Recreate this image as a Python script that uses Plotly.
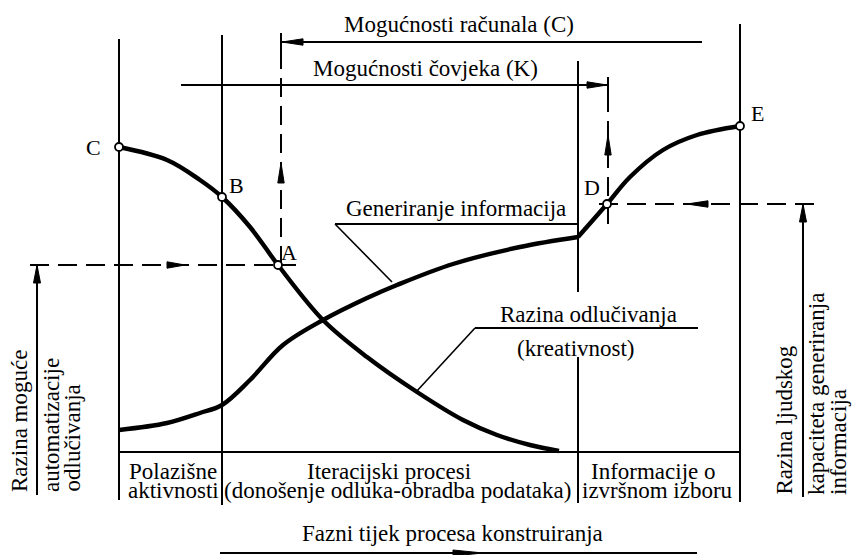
import plotly.graph_objects as go

# Horizontal axis: progress of the design process; vertical axis: level above the baseline
phase_bounds = [0, 103, 459, 621]
phase_labels = [
    ["Polazišne", "aktivnosti"],
    ["Iteracijski procesi", "(donošenje odluka-obradba podataka)"],
    ["Informacije o", "izvršnom izboru"],
]

# Level of decision making (creativity) - falls along the process
dec_x = [0, 48, 81, 103, 131, 159, 204, 248, 298, 344, 378, 411, 440]
dec_y = [305, 292, 272, 255, 225, 187, 132, 95, 60, 32, 17, 7, 1]

# Generation of information - rises, with a break at the start of the last phase
gen_x = [0, 48, 81, 103, 131, 164, 204, 248, 278, 334, 401, 459, 488, 511, 544, 578, 621]
gen_y = [22, 29, 39, 47, 72, 107, 132, 154, 167, 188, 205, 215, 248, 275, 302, 317, 326]
gen_break = 11

# Characteristic points: (name, series, index)
key_points = [("C", "dec", 0), ("B", "dec", 3), ("A", "dec", 5), ("D", "gen", 12), ("E", "gen", 16)]

FONT = "'Liberation Serif', 'Times New Roman', Times, serif"
FS = 23
BLACK = "black"

fig = go.Figure()

curve = dict(color=BLACK, width=4.4, shape="spline", smoothing=1.0)
fig.add_trace(go.Scatter(x=dec_x, y=dec_y, mode="lines", line=curve, hoverinfo="skip"))
fig.add_trace(go.Scatter(x=gen_x[:gen_break + 1], y=gen_y[:gen_break + 1], mode="lines",
                         line=curve, hoverinfo="skip"))
fig.add_trace(go.Scatter(x=gen_x[gen_break:], y=gen_y[gen_break:], mode="lines",
                         line=curve, hoverinfo="skip"))

series = {"dec": (dec_x, dec_y), "gen": (gen_x, gen_y)}
px_ = [series[s][0][i] for _, s, i in key_points]
py_ = [series[s][1][i] for _, s, i in key_points]
fig.add_trace(go.Scatter(x=px_, y=py_, mode="markers",
                         marker=dict(size=8, color="white", line=dict(color=BLACK, width=1.8)),
                         hoverinfo="skip"))

shapes = []


def seg(x0, y0, x1, y1, w=2, dash=None):
    ln = dict(color=BLACK, width=w)
    if dash:
        ln["dash"] = dash
    shapes.append(dict(type="line", x0=x0, y0=y0, x1=x1, y1=y1, xref="x", yref="y",
                       line=ln, layer="below"))


def head(tx, ty, dx, dy, length=20, half=3.2):
    bx, by = tx - dx * length, ty - dy * length
    ox, oy = -dy * half, dx * half
    shapes.append(dict(type="path", xref="x", yref="y", fillcolor=BLACK,
                       line=dict(color=BLACK, width=1),
                       path=f"M {tx},{ty} L {bx + ox},{by + oy} L {bx - ox},{by - oy} Z"))


DASH = "19px,9px"

# phase boundaries and baseline
seg(phase_bounds[0], 413, phase_bounds[0], -48)
seg(phase_bounds[1], 417, phase_bounds[1], -53)
seg(phase_bounds[2], 391, phase_bounds[2], 160)
seg(phase_bounds[2], 95, phase_bounds[2], -51)
seg(phase_bounds[3], 428, phase_bounds[3], -50)
seg(phase_bounds[0], 0, phase_bounds[3], 0)

# computer capability (C) range
seg(162, 419, 162, 402)
seg(162, 410, 583, 410)
head(163, 410, -1, 0, length=21)
# human capability (K) range
seg(62, 367, 489, 367)
seg(489, 375, 489, 359)
head(488, 367, 1, 0, length=20)

# projections through A and D
seg(162, 402, 162, 187, dash=DASH)
head(162, 289, 0, 1)
seg(-89, 187, 177, 187, dash=DASH)
head(66, 187, 1, 0, length=18)
seg(489, 359, 489, 228, dash=DASH)
head(489, 317, 0, 1)
seg(480, 248, 703, 248, dash=DASH)
head(568, 248, -1, 0, length=21)

# side scales
seg(-82, 187, -82, -43)
head(-82, 187, 0, 1, length=18, half=3.5)
seg(684, 248, 684, -45)
head(684, 248, 0, 1, length=18, half=3.5)

# leader lines to the curves
seg(216, 228, 459, 228, w=1.8)
seg(216, 228, 273, 170, w=1.6)
seg(356, 124, 579, 124, w=1.8)
seg(356, 124, 297, 60, w=1.6)

# process flow arrow
seg(101, -101, 578, -101)
head(364, -101, 1, 0, length=30, half=3)

ann = []


def text(x, y, s, size=FS, xa="center", ya="middle", angle=0):
    ann.append(dict(x=x, y=y, xref="x", yref="y", text=s, showarrow=False,
                    font=dict(family=FONT, size=size, color=BLACK),
                    xanchor=xa, yanchor=ya, textangle=angle))


text(340, 428, "Mogućnosti računala (C)")
text(306, 384, "Mogućnosti čovjeka (K)")
text(337, 244, "Generiranje informacija")
text(469, 138, "Razina odlučivanja")
text(457, 104, "(kreativnost)")

# cell text centres (first line, second line) for each phase
cell_centres = [(54, 54), (270, 278), (534, 538)]
for (l1, l2), (c1, c2) in zip(phase_labels, cell_centres):
    text(c1, -19, l1)
    text(c2, -38, l2)

text(333, -81, "Fazni tijek procesa konstruiranja")

text(-100, -42, "Razina moguće", ya="bottom", angle=-90)
text(-68, -42, "automatizacije", ya="bottom", angle=-90)
text(-47, -42, "odlučivanja", ya="bottom", angle=-90)
text(665, -45, "Razina ljudskog", ya="bottom", angle=-90)
text(697, -45, "kapaciteta generiranja", ya="bottom", angle=-90)
text(719, -45, "informacija", ya="bottom", angle=-90)

label_offsets = {"C": (-26, 0), "B": (14, 12), "A": (11, 13), "D": (-15, 17), "E": (17, 13)}
for (name, _, _), x, y in zip(key_points, px_, py_):
    dx, dy = label_offsets[name]
    text(x + dx, y + dy, name, size=22)

fig.update_layout(
    width=861, height=555,
    margin=dict(l=0, r=0, t=0, b=0),
    paper_bgcolor="white", plot_bgcolor="white",
    font=dict(family=FONT, size=FS, color=BLACK),
    showlegend=False,
    shapes=shapes, annotations=ann,
    xaxis=dict(range=[-119, 742], visible=False, fixedrange=True),
    yaxis=dict(range=[-103, 452], visible=False, fixedrange=True),
)

fig.write_html("out.html")
